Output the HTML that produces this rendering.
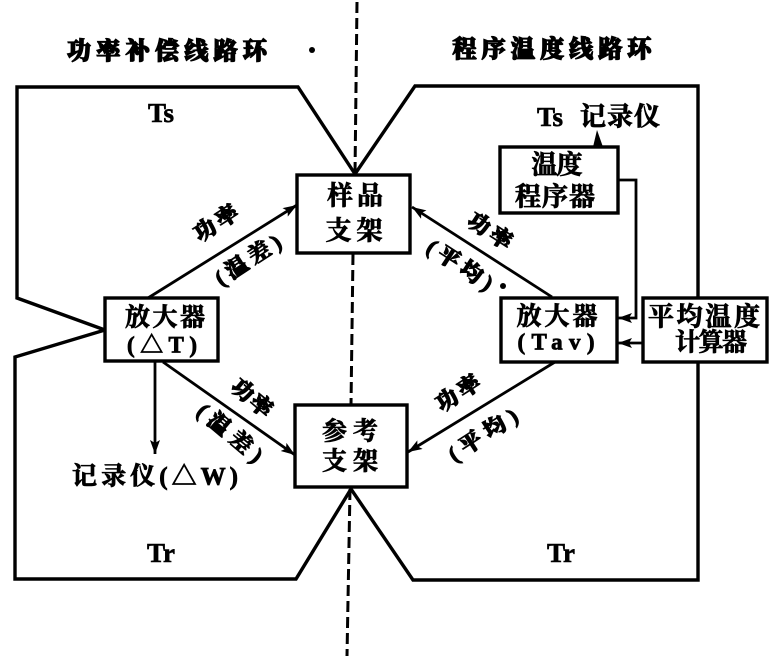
<!DOCTYPE html>
<html><head><meta charset="utf-8"><style>
html,body{margin:0;padding:0;background:#fff;}
svg{display:block;}
.c{font-family:"Liberation Serif","Noto Serif CJK SC",serif;font-weight:700;fill:#000;stroke:#000;stroke-width:0.8px;}
.t{font-family:"Liberation Serif","Noto Serif CJK SC",serif;font-weight:900;fill:#000;stroke:#000;stroke-width:1.3px;}
.r{font-family:"Liberation Serif","Noto Serif CJK SC",serif;font-weight:900;fill:#000;stroke:#000;stroke-width:1.1px;}
.l{font-family:"Liberation Serif",serif;font-weight:700;fill:#000;stroke:#000;stroke-width:0.6px;}
</style></head><body>
<svg width="773" height="656" viewBox="0 0 773 656" xmlns="http://www.w3.org/2000/svg">
<defs>
<marker id="a" markerUnits="userSpaceOnUse" markerWidth="16" markerHeight="12" refX="14" refY="5" orient="auto">
<path d="M0,0 L14,5 L0,10 L3,5 z" fill="#000"/>
</marker>
</defs>
<rect width="773" height="656" fill="#fff"/>

<!-- center dashed line -->
<g stroke="#000" stroke-width="3" stroke-dasharray="11,5" fill="none">
<line x1="357" y1="2" x2="355" y2="174"/>
<line x1="353" y1="254" x2="351" y2="405"/>
<line x1="350" y1="489" x2="347" y2="656"/>
</g>

<!-- loops -->
<g stroke="#000" stroke-width="3.4" fill="none" stroke-linejoin="miter">
<path d="M355,174 L298,87 L17,87 L17,298 L105,330 L15,357 L15,579 L296,579 L351,489 L413,580 L698,580 L698,362"/>
<path d="M355,174 L415,86 L698,86 L698,298"/>
</g>

<!-- boxes -->
<g stroke="#000" stroke-width="3.4" fill="#fff">
<rect x="297" y="175" width="113" height="78"/>
<rect x="295" y="405" width="112" height="82"/>
<rect x="105" y="298" width="113" height="63"/>
<rect x="500" y="147" width="118" height="66"/>
<rect x="501" y="298" width="116" height="64"/>
<rect x="643" y="298" width="124" height="64"/>
</g>

<!-- connectors -->
<g stroke="#000" stroke-width="2.8" fill="none" marker-end="url(#a)">
<line x1="148" y1="298" x2="297" y2="205"/>
<line x1="552" y1="297" x2="412" y2="207"/>
<line x1="163" y1="362" x2="295" y2="455"/>
<line x1="555" y1="362" x2="408" y2="452"/>
<line x1="155" y1="362" x2="155" y2="454"/>
<polyline points="618,180 636,180 636,318 618,318"/>
<line x1="643" y1="343" x2="618" y2="343"/>
</g>
<polygon points="593,147 603,147 597,130" fill="#000"/>
<circle cx="312" cy="50" r="3" fill="#000"/>

<!-- titles -->
<text class="t" x="167" y="52" font-size="24" text-anchor="middle" dominant-baseline="central" textLength="200" lengthAdjust="spacing">功率补偿线路环</text>
<text class="t" x="552" y="50" font-size="24" text-anchor="middle" dominant-baseline="central" textLength="199" lengthAdjust="spacing">程序温度线路环</text>

<!-- T labels -->
<text class="l" x="161" y="122" font-size="27" text-anchor="middle">Ts</text>
<text class="l" x="161" y="562" font-size="27" text-anchor="middle">Tr</text>
<text class="l" x="561" y="562" font-size="27" text-anchor="middle">Tr</text>
<text class="l" x="550" y="126" font-size="27" text-anchor="middle">Ts</text>
<text class="c" x="620" y="117" font-size="26" text-anchor="middle" dominant-baseline="central" textLength="80" lengthAdjust="spacing">记录仪</text>

<!-- box texts -->
<text class="c" x="355" y="196" font-size="26" text-anchor="middle" dominant-baseline="central" textLength="56" lengthAdjust="spacing">样品</text>
<text class="c" x="354" y="231" font-size="26" text-anchor="middle" dominant-baseline="central" textLength="57" lengthAdjust="spacing">支架</text>
<text class="c" x="350" y="432" font-size="25" text-anchor="middle" dominant-baseline="central" textLength="56" lengthAdjust="spacing">参考</text>
<text class="c" x="350" y="462" font-size="25" text-anchor="middle" dominant-baseline="central" textLength="56" lengthAdjust="spacing">支架</text>
<text class="c" x="165" y="318" font-size="25" text-anchor="middle" dominant-baseline="central" textLength="80" lengthAdjust="spacing">放大器</text>
<text class="c" x="162" y="345" font-size="23" text-anchor="middle" dominant-baseline="central" textLength="70" lengthAdjust="spacing">(△T)</text>
<text class="c" x="557" y="317" font-size="25" text-anchor="middle" dominant-baseline="central" textLength="81" lengthAdjust="spacing">放大器</text>
<text class="c" x="556" y="342" font-size="23" text-anchor="middle" dominant-baseline="central" textLength="77" lengthAdjust="spacing">(Tav)</text>
<text class="c" x="557" y="165" font-size="26" text-anchor="middle" dominant-baseline="central" textLength="51" lengthAdjust="spacing">温度</text>
<text class="c" x="555" y="197" font-size="26" text-anchor="middle" dominant-baseline="central" textLength="80" lengthAdjust="spacing">程序器</text>
<text class="c" x="704" y="317" font-size="26" text-anchor="middle" dominant-baseline="central" textLength="112" lengthAdjust="spacing">平均温度</text>
<text class="c" x="711" y="343" font-size="25" text-anchor="middle" dominant-baseline="central" textLength="72" lengthAdjust="spacing">计算器</text>
<text class="c" x="155" y="477" font-size="25" text-anchor="middle" dominant-baseline="central" textLength="166" lengthAdjust="spacing">记录仪(△W)</text>

<!-- rotated connector labels -->
<g transform="translate(216,223) rotate(-33)"><text class="r" x="0" y="0" font-size="22" text-anchor="middle" dominant-baseline="central" textLength="48" lengthAdjust="spacing">功率</text></g>
<g transform="translate(248,260) rotate(-33)"><text class="r" x="0" y="0" font-size="22" text-anchor="middle" dominant-baseline="central" textLength="74" lengthAdjust="spacing">(温差)</text></g>

<g transform="translate(490,231) rotate(33)"><text class="r" x="0" y="0" font-size="22" text-anchor="middle" dominant-baseline="central" textLength="48" lengthAdjust="spacing">功率</text></g>
<g transform="translate(460,265) rotate(33)"><text class="r" x="0" y="0" font-size="22" text-anchor="middle" dominant-baseline="central" textLength="74" lengthAdjust="spacing">(平均)</text></g>
<circle cx="503" cy="286" r="3" fill="#000"/>

<g transform="translate(252,398) rotate(40)"><text class="r" x="0" y="0" font-size="22" text-anchor="middle" dominant-baseline="central" textLength="46" lengthAdjust="spacing">功率</text></g>
<g transform="translate(230,433) rotate(40)"><text class="r" x="0" y="0" font-size="22" text-anchor="middle" dominant-baseline="central" textLength="78" lengthAdjust="spacing">(温差)</text></g>

<g transform="translate(458,393) rotate(-33)"><text class="r" x="0" y="0" font-size="22" text-anchor="middle" dominant-baseline="central" textLength="48" lengthAdjust="spacing">功率</text></g>
<g transform="translate(483,435) rotate(-33)"><text class="r" x="0" y="0" font-size="22" text-anchor="middle" dominant-baseline="central" textLength="78" lengthAdjust="spacing">(平均)</text></g>
</svg>
</body></html>
